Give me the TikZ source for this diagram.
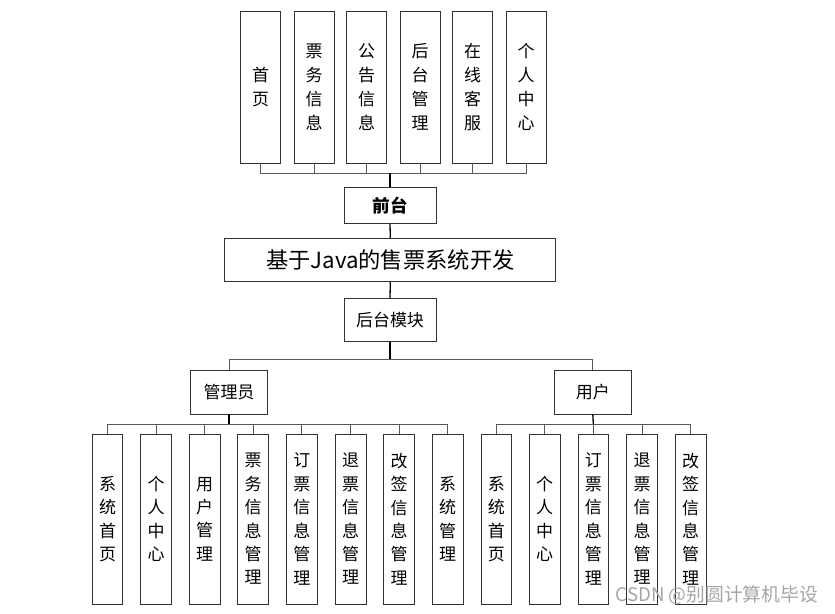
\documentclass[tikz,border=0pt]{standalone}
\usepackage{fontspec}
\setmainfont{Noto Sans CJK SC}

\begin{document}
\begin{tikzpicture}[x=0.03cm, y=-0.03cm,
    box/.style={rectangle, draw=black!80, line width=0.8pt, fill=white, align=center, inner sep=0pt, font=\fontsize{14.5}{20.5}\selectfont},
    topbox/.style={box, minimum width=1.2cm, minimum height=4.56cm},
    subbox/.style={box, minimum width=0.92cm, minimum height=5.1cm, font=\fontsize{14.5}{20}\selectfont},
    rolebox/.style={box, minimum width=2.33cm, minimum height=1.3cm},
    bus/.style={black!65, line width=0.7pt},
    stem/.style={black, line width=1.1pt}
  ]
    \fill[white] (0,0) rectangle (835,614);
    \useasboundingbox (0,0) rectangle (835,614);

    % --- FRONT END ---
    \node[topbox] (home) at (260.7, 87) {首\\页};
    \node[topbox] (ticket) at (314, 87) {票\\务\\信\\息};
    \node[topbox] (notice) at (366.7, 87) {公\\告\\信\\息};
    \node[topbox] (admin) at (420, 87) {后\\台\\管\\理};
    \node[topbox] (service) at (472.7, 87) {在\\线\\客\\服};
    \node[topbox] (center) at (526, 87) {个\\人\\中\\心};

    \node[box, minimum width=2.76cm, minimum height=1.08cm, font=\fontsize{15}{18}\selectfont\bfseries] (front) at (390, 205.3) {前台};
    \coordinate (topbus) at (390, 173.3);

    \draw[bus] (home.south) |- (topbus);
    \draw[bus] (ticket.south) |- (topbus);
    \draw[bus] (notice.south) |- (topbus);
    \draw[bus] (center.south) |- (topbus);
    \draw[bus] (service.south) |- (topbus);
    \draw[bus] (admin.south) |- (topbus);
    \draw[stem] (topbus) -- (front.north);

    % --- SYSTEM TITLE ---
    \node[box, minimum width=9.92cm, minimum height=1.3cm, font=\fontsize{19}{22}\selectfont] (title) at (390.3, 260) {基于Java的售票系统开发};
    \draw[stem] (front.south) -- (title.north);

    \node[box, minimum width=2.76cm, minimum height=1.28cm] (back) at (390, 319.7) {后台模块};
    \draw[stem] (title.south) -- (back.north);

    % --- ROLES ---
    \node[rolebox] (manager) at (229, 392.3) {管理员};
    \node[rolebox] (user) at (592.8, 392.3) {用户};
    \coordinate (rolebus) at (390, 359.3);
    \draw[stem] (back.south) -- (rolebus);
    \draw[bus] (rolebus) -| (manager.north);
    \draw[bus] (rolebus) -| (user.north);

    % --- MANAGER MODULES ---
    \node[subbox] (m1) at (107.5, 519) {系\\统\\首\\页};
    \node[subbox] (m2) at (156.2, 519) {个\\人\\中\\心};
    \node[subbox] (m3) at (204.7, 519) {用\\户\\管\\理};
    \node[subbox] (m4) at (253.2, 519) {票\\务\\信\\息\\管\\理};
    \node[subbox] (m5) at (301.8, 519) {订\\票\\信\\息\\管\\理};
    \node[subbox] (m6) at (350.7, 519) {退\\票\\信\\息\\管\\理};
    \node[subbox] (m7) at (399, 519) {改\\签\\信\\息\\管\\理};
    \node[subbox] (m8) at (447.7, 519) {系\\统\\管\\理};
    \coordinate (mbus) at (229, 424);
    \draw[stem] (manager.south) -- (mbus);
    \draw[bus] (mbus) -| (m1.north);
    \draw[bus] (mbus) -| (m2.north);
    \draw[bus] (mbus) -| (m3.north);
    \draw[bus] (mbus) -| (m4.north);
    \draw[bus] (mbus) -| (m5.north);
    \draw[bus] (mbus) -| (m6.north);
    \draw[bus] (mbus) -| (m7.north);
    \draw[bus] (mbus) -| (m8.north);

    % --- USER MODULES ---
    \node[subbox] (u1) at (496.3, 519) {系\\统\\首\\页};
    \node[subbox] (u2) at (544.7, 519) {个\\人\\中\\心};
    \node[subbox] (u3) at (593.3, 519) {订\\票\\信\\息\\管\\理};
    \node[subbox] (u4) at (642, 519) {退\\票\\信\\息\\管\\理};
    \node[subbox] (u5) at (690.7, 519) {改\\签\\信\\息\\管\\理};
    \coordinate (ubus) at (593.3, 424);
    \draw[stem] (user.south) -- (ubus);
    \draw[bus] (ubus) -| (u1.north);
    \draw[bus] (ubus) -| (u2.north);
    \draw[bus] (ubus) -- (u3.north);
    \draw[bus] (ubus) -| (u4.north);
    \draw[bus] (ubus) -| (u5.north);

    \node[text=black!35, font=\fontsize{16}{18}\selectfont, anchor=east, inner sep=0pt] (mark) at (818, 595) {CSDN @别圆计算机毕设};
  \end{tikzpicture}
\end{document}
